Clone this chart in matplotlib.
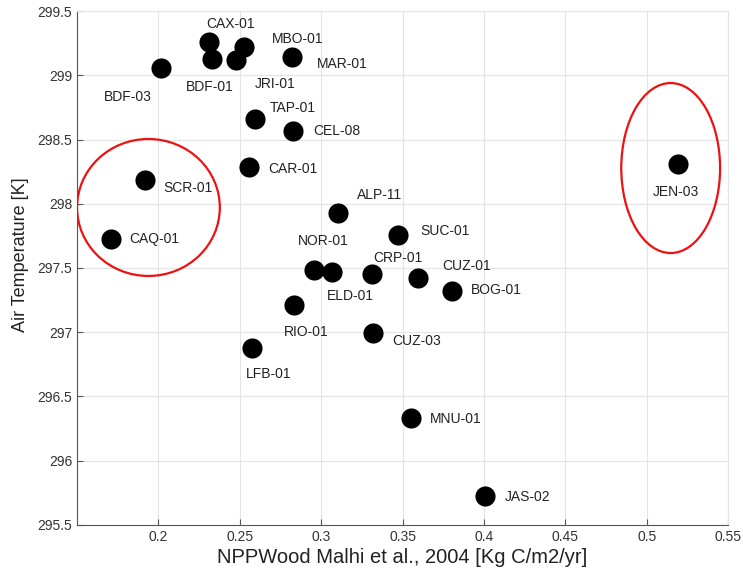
import matplotlib
matplotlib.use("Agg")
import matplotlib.pyplot as plt
from matplotlib.patches import Ellipse

# ── Data ──────────────────────────────────────────────────────────────────────
sites = ["BDF-03", "CAX-01", "BDF-01", "JRI-01", "MBO-01", "MAR-01", "TAP-01",
         "CEL-08", "CAR-01", "SCR-01", "CAQ-01", "ALP-11", "NOR-01", "ELD-01",
         "CRP-01", "SUC-01", "CUZ-01", "BOG-01", "JEN-03", "RIO-01", "LFB-01",
         "CUZ-03", "MNU-01", "JAS-02"]
npp_wood = [0.2015, 0.2312, 0.2330, 0.2475, 0.2527, 0.2820, 0.2596,
            0.2825, 0.2557, 0.1919, 0.1710, 0.3105, 0.2954, 0.3066,
            0.3310, 0.3470, 0.3592, 0.3805, 0.5195, 0.2833, 0.2578,
            0.3320, 0.3553, 0.4005]
air_temp = [299.06, 299.256, 299.126, 299.116, 299.222, 299.14, 298.66,
            298.568, 298.288, 298.185, 297.726, 297.926, 297.484, 297.471,
            297.453, 297.757, 297.42, 297.321, 298.307, 297.21, 296.877,
            296.997, 296.335, 295.726]

# label offsets from each dot, in pixels (dx right, dy down)
label_offsets = [(-33, 29), (21, -18), (-2, 28), (39, 24), (53, -8), (50, 7),
                 (37, -11), (44, 0), (44, 2), (43, 8), (43, 0), (41, -18),
                 (10, -29), (18, 24), (26, -16), (47, -4), (49, -12), (44, -1),
                 (-3, 28), (12, 27), (16, 26), (43, 8), (45, 1), (43, 1)]

x_ticks = [0.2, 0.25, 0.3, 0.35, 0.4, 0.45, 0.5, 0.55]
y_ticks = [295.5, 296, 296.5, 297, 297.5, 298, 298.5, 299, 299.5]

# highlighted groups: (centre x, centre y, width, height)
highlights = [(0.1939, 297.971, 0.0877, 1.066),
              (0.5147, 298.278, 0.0607, 1.323)]

# ── Plot ──────────────────────────────────────────────────────────────────────
plt.rcParams["font.family"] = ["Liberation Sans", "DejaVu Sans"]

fig = plt.figure(figsize=(7.43, 5.71), dpi=100)
ax = fig.add_axes([0.1036, 0.0806, 0.8764, 0.9001])

ax.scatter(npp_wood, air_temp, s=210, color="black", zorder=3, linewidths=0)

for name, x, y, (dx, dy) in zip(sites, npp_wood, air_temp, label_offsets):
    ax.annotate(name, (x, y), xytext=(dx, -dy), textcoords="offset pixels",
                ha="center", va="center", fontsize=10, color="#222222",
                zorder=4)

for cx, cy, w, h in highlights:
    ax.add_patch(Ellipse((cx, cy), w, h, fill=False, edgecolor="#ee1111",
                         linewidth=1.6, zorder=5))

ax.set_xlim(0.15, 0.55)
ax.set_ylim(295.5, 299.5)
ax.set_xticks(x_ticks)
ax.set_xticklabels([f"{t:g}" for t in x_ticks])
ax.set_yticks(y_ticks)
ax.set_yticklabels([f"{t:g}" for t in y_ticks])

ax.grid(True, color="#e4e4e4", linewidth=0.8)
ax.set_axisbelow(True)
for side in ("top", "right"):
    ax.spines[side].set_color("#e4e4e4")
for side in ("left", "bottom"):
    ax.spines[side].set_color("#555555")
ax.tick_params(direction="in", length=4, colors="#555555", labelsize=10,
               labelcolor="#333333")

ax.set_xlabel("NPPWood Malhi et al., 2004 [Kg C/m2/yr]", fontsize=14.5,
              color="#222222", labelpad=3)
ax.set_ylabel("Air Temperature [K]", fontsize=13, color="#222222")
ax.yaxis.set_label_coords(-0.073, 0.525)

fig.savefig("out.png", dpi=100)
